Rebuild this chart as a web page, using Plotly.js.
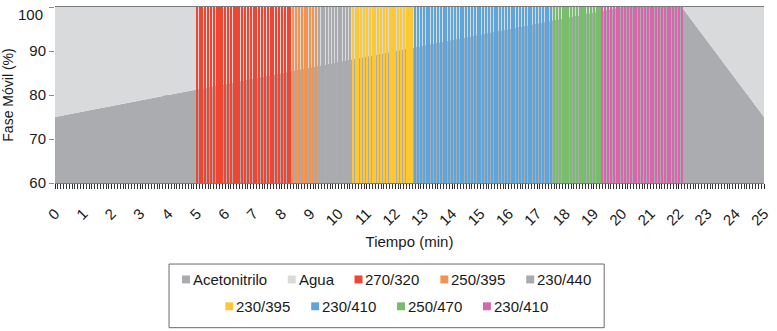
<!DOCTYPE html>
<html>
<head>
<meta charset="utf-8">
<script src="https://cdn.plot.ly/plotly-3.0.1.min.js"></script>
<style>
  html, body { margin: 0; padding: 0; background: #ffffff; }
  #chart { width: 777px; height: 331px; }
</style>
</head>
<body>
<div id="chart"></div>
<script>
// Gradient program sampled every 0.1 min (0.0 ... 25.0 min), % acetonitrile
const acetonitrilo = [
  75, 75.13, 75.25, 75.38, 75.5, 75.63, 75.75, 75.88,
  76, 76.13, 76.25, 76.38, 76.5, 76.63, 76.75, 76.88,
  77, 77.13, 77.25, 77.38, 77.5, 77.63, 77.75, 77.88,
  78, 78.13, 78.25, 78.38, 78.5, 78.63, 78.75, 78.88,
  79, 79.13, 79.25, 79.38, 79.5, 79.63, 79.75, 79.88,
  80, 80.13, 80.25, 80.38, 80.5, 80.63, 80.75, 80.88,
  81, 81.13, 81.25, 81.38, 81.5, 81.63, 81.75, 81.88,
  82, 82.13, 82.25, 82.38, 82.5, 82.63, 82.75, 82.88,
  83, 83.13, 83.25, 83.38, 83.5, 83.63, 83.75, 83.88,
  84, 84.13, 84.25, 84.38, 84.5, 84.63, 84.75, 84.88,
  85, 85.13, 85.25, 85.38, 85.5, 85.63, 85.75, 85.88,
  86, 86.13, 86.25, 86.38, 86.5, 86.63, 86.75, 86.88,
  87, 87.13, 87.25, 87.38, 87.5, 87.63, 87.75, 87.88,
  88, 88.13, 88.25, 88.38, 88.5, 88.63, 88.75, 88.88,
  89, 89.13, 89.25, 89.38, 89.5, 89.63, 89.75, 89.88,
  90, 90.13, 90.25, 90.38, 90.5, 90.63, 90.75, 90.88,
  91, 91.13, 91.25, 91.38, 91.5, 91.63, 91.75, 91.88,
  92, 92.13, 92.25, 92.38, 92.5, 92.63, 92.75, 92.88,
  93, 93.13, 93.25, 93.38, 93.5, 93.63, 93.75, 93.88,
  94, 94.13, 94.25, 94.38, 94.5, 94.63, 94.75, 94.88,
  95, 95.13, 95.25, 95.38, 95.5, 95.63, 95.75, 95.88,
  96, 96.13, 96.25, 96.38, 96.5, 96.63, 96.75, 96.88,
  97, 97.13, 97.25, 97.38, 97.5, 97.63, 97.75, 97.88,
  98, 98.13, 98.25, 98.38, 98.5, 98.63, 98.75, 98.88,
  99, 99.13, 99.25, 99.38, 99.5, 99.63, 99.75, 99.88,
  100, 100, 100, 100, 100, 100, 100, 100, 100, 100, 100,
  100, 100, 100, 100, 100, 100, 100, 100, 100, 100, 100,
  99.14, 98.28, 97.41, 96.55, 95.69, 94.83, 93.97, 93.10, 92.24, 91.38,
  90.52, 89.66, 88.79, 87.93, 87.07, 86.21, 85.34, 84.48, 83.62, 82.76,
  81.90, 81.03, 80.17, 79.31, 78.45, 77.59, 76.72, 75.86, 75.00
];

// Detection windows (excitation/emission, nm) and their time spans in min
const bandNames  = ['270/320', '250/395', '230/440', '230/395', '230/410', '250/470', '230/410'];
const bandStart  = [5.0, 8.4, 9.3, 10.5, 12.7, 17.6, 19.3];
const bandEnd    = [8.3, 9.2, 10.4, 12.6, 17.5, 19.2, 22.1];
const bandColors = ['#EF4533', '#F39352', '#A9AAAD', '#FEC834', '#5EA5DB', '#77BD6B', '#D468AB'];

const phaseNames  = ['Acetonitrilo', 'Agua'];
const phaseColors = ['#ABACAF', '#D9DADC'];

const tickMinutes = [0, 1, 2, 3, 4, 5, 6, 7, 8, 9, 10, 11, 12, 13, 14, 15, 16, 17, 18, 19, 20, 21, 22, 23, 24, 25];
const tickPercent = [60, 70, 80, 90, 100];

// one sample every 0.1 min
const STEP = 0.1;
const times = acetonitrilo.map((_, i) => Math.round(i * STEP * 10) / 10);
const agua = acetonitrilo.map(v => 100 - v);

const FONT = 'Liberation Sans, Arial, sans-serif';
const TICK_SIZE = 15;
const traces = [];

// mobile phase composition: stacked areas on the main axes
traces.push({
  type: 'scatter', mode: 'lines', name: phaseNames[0], x: times, y: acetonitrilo,
  stackgroup: 'fase', line: { width: 0 }, fillcolor: phaseColors[0], showlegend: false
});
traces.push({
  type: 'scatter', mode: 'lines', name: phaseNames[1], x: times, y: agua,
  stackgroup: 'fase', line: { width: 0 }, fillcolor: phaseColors[1], showlegend: false
});

// detection windows: thin full-height bars on an overlaid copy of the axes
bandNames.forEach((name, k) => {
  const xs = times.filter(t => t >= bandStart[k] - 1e-6 && t <= bandEnd[k] + 1e-6);
  traces.push({
    type: 'bar', name: name, x: xs, y: xs.map(() => 100),
    xaxis: 'x2', yaxis: 'y2',
    width: STEP * 0.72, marker: { color: bandColors[k], line: { width: 0 } },
    showlegend: false
  });
});

// ---- legend box below the axis, drawn as paper-space shapes and text ----
const W = 777, H = 331;
const M = { l: 55, r: 10, t: 6, b: 148 };
const PW = W - M.l - M.r, PH = H - M.t - M.b;
const px2x = px => (px - M.l) / PW;
const py2y = py => (H - M.b - py) / PH;

const LEG_SIZE = 15;
const ctx = document.createElement('canvas').getContext('2d');
ctx.font = LEG_SIZE + 'px "Liberation Sans", Arial, sans-serif';

const legendRows = [
  [
    { name: phaseNames[0], color: phaseColors[0] },
    { name: phaseNames[1], color: phaseColors[1] },
    { name: bandNames[0], color: bandColors[0] },
    { name: bandNames[1], color: bandColors[1] },
    { name: bandNames[2], color: bandColors[2] }
  ],
  [
    { name: bandNames[3], color: bandColors[3] },
    { name: bandNames[4], color: bandColors[4] },
    { name: bandNames[5], color: bandColors[5] },
    { name: bandNames[6], color: bandColors[6] }
  ]
];
const rowY = [280, 307];
const SW = 8, TXTGAP = 3, ITEMGAP = 21, BOX_CX = 388;

const shapes = [{
  type: 'rect', xref: 'paper', yref: 'paper',
  x0: px2x(169.5), x1: px2x(606.5), y0: py2y(264.5), y1: py2y(328.5),
  line: { color: '#6b6b6b', width: 1 }, fillcolor: 'rgba(0,0,0,0)'
}];
const annotations = [];

legendRows.forEach((row, r) => {
  const widths = row.map(it => SW + TXTGAP + ctx.measureText(it.name).width);
  const total = widths.reduce((a, b) => a + b, 0) + ITEMGAP * (row.length - 1);
  let x = BOX_CX - total / 2;
  row.forEach((it, i) => {
    const cy = rowY[r];
    shapes.push({
      type: 'rect', xref: 'paper', yref: 'paper',
      x0: px2x(x), x1: px2x(x + SW), y0: py2y(cy + SW / 2), y1: py2y(cy - SW / 2),
      line: { width: 0 }, fillcolor: it.color
    });
    annotations.push({
      xref: 'paper', yref: 'paper', x: px2x(x + SW + TXTGAP - 1), y: py2y(cy),
      xanchor: 'left', yanchor: 'middle', showarrow: false,
      text: it.name, font: { family: FONT, size: LEG_SIZE, color: '#1a1a1a' }, borderpad: 0
    });
    x += widths[i] + ITEMGAP;
  });
});

// the top value label sits just inside the chart edge
const topTick = tickPercent[tickPercent.length - 1];
annotations.push({
  xref: 'paper', yref: 'y', x: 0, y: topTick, xanchor: 'right', yanchor: 'middle',
  xshift: -11, yshift: -7, showarrow: false, borderpad: 0,
  text: String(topTick), font: { family: FONT, size: TICK_SIZE, color: '#1a1a1a' }
});

const X_RANGE = [0, 25];
const Y_RANGE = [60, 100];

const layout = {
  width: W, height: H,
  margin: M,
  paper_bgcolor: '#ffffff', plot_bgcolor: '#ffffff',
  font: { family: FONT, size: 14, color: '#1a1a1a' },
  barmode: 'overlay', bargap: 0,
  showlegend: false,
  hovermode: false,
  xaxis: {
    range: X_RANGE,
    tickmode: 'array', tickvals: tickMinutes, ticktext: tickMinutes.map(String),
    tickangle: -45,
    ticks: 'outside', ticklen: 5, tickwidth: 1, tickcolor: '#222',
    ticklabelstandoff: 10,
    minor: { tickmode: 'linear', tick0: 0, dtick: STEP, ticks: 'outside', ticklen: 5, tickwidth: 1, tickcolor: '#333', showgrid: false },
    tickfont: { size: TICK_SIZE },
    showgrid: false, zeroline: false,
    showline: true, linecolor: '#7a7a7a', linewidth: 1, mirror: true,
    title: { text: 'Tiempo (min)', font: { size: 15 }, standoff: 8 },
    automargin: true
  },
  yaxis: {
    range: Y_RANGE,
    tickmode: 'array', tickvals: tickPercent,
    ticktext: tickPercent.map(v => v === topTick ? '' : String(v)),
    ticks: 'outside', ticklen: 5, tickwidth: 1, tickcolor: '#8a8a8a',
    tickfont: { size: TICK_SIZE },
    showgrid: true, gridcolor: '#8a8a8a', gridwidth: 1,
    zeroline: false, showline: false,
    title: { text: 'Fase Móvil (%)', font: { size: 14 }, standoff: 14 },
    automargin: true
  },
  xaxis2: { overlaying: 'x', range: X_RANGE, visible: false, fixedrange: true },
  yaxis2: { overlaying: 'y', range: Y_RANGE, visible: false, fixedrange: true },
  shapes: shapes,
  annotations: annotations
};

Plotly.newPlot('chart', traces, layout, { staticPlot: true, displayModeBar: false });
</script>
</body>
</html>
